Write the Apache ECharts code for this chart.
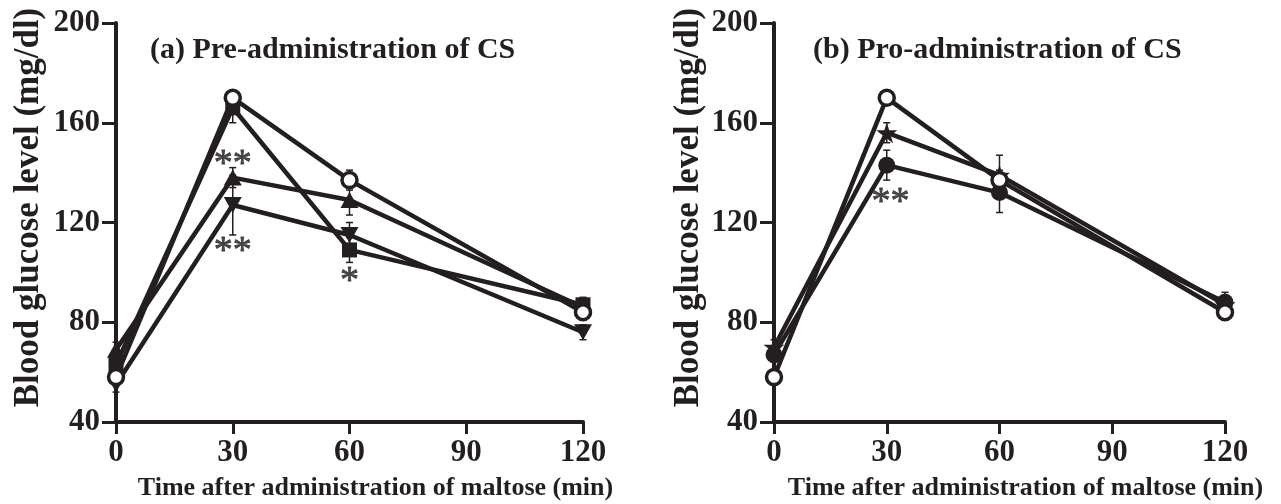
<!DOCTYPE html>
<html><head><meta charset="utf-8">
<script src="https://cdn.jsdelivr.net/npm/echarts@6/dist/echarts.min.js"></script>
<style>html,body{margin:0;padding:0;background:#fff}#c{width:1281px;height:504px}</style>
</head><body><div id="c"></div>
<script>
const times = [0, 30, 60, 120];
const panelTitles = ['(a) Pre-administration of CS', '(b) Pro-administration of CS'];
const xTitle = 'Time after administration of maltose (min)';
const yTitle = 'Blood glucose level (mg/dl)';

// panel (a)
const aControl = [58, 170, 137, 84];
const aControlErr = [2, 2, 4, 3];
const aSquare = [63, 166, 109, 87];
const aSquareErr = [3, 6, 5, 3];
const aTriUp = [69, 138, 129, 86];
const aTriUpErr = [3, 4, 6, 3];
const aTriDown = [55, 127, 115, 76];
const aTriDownErr = [3, 12, 5, 3];
// panel (b)
const bControl = [58, 170, 137, 84];
const bControlErr = [2, 2, 4, 3];
const bStar = [70, 156, 139, 87];
const bStarErr = [3, 4, 8, 3];
const bFilled = [67, 143, 132, 88];
const bFilledErr = [3, 6, 8, 4];

// significance marks [x, y, text]
const aMarks = [[30, 143, '**'], [30, 108, '**'], [60, 96, '*']];
const bMarks = [[31, 128, '**']];

const INK = '#231f20';
const SERIF = '"Liberation Serif", "Times New Roman", serif';
const DOWN_TRI = 'path://M0,0 L10,0 L5,9 Z';
const STAR = 'path://M50,0 L61,35 L98,35 L68,57 L79,91 L50,70 L21,91 L32,57 L2,35 L39,35 Z';

function errSeries(ai, vals, errs) {
  return {
    type: 'custom', xAxisIndex: ai, yAxisIndex: ai, z: 1, silent: true, animation: false,
    data: times.map((t, i) => [t, vals[i], errs[i]]),
    renderItem(params, api) {
      const x = api.value(0), y = api.value(1), e = api.value(2);
      const hi = api.coord([x, y + e]), lo = api.coord([x, y - e]);
      const w = 3.5, st = {stroke: INK, lineWidth: 1.5};
      return {type: 'group', children: [
        {type: 'line', shape: {x1: hi[0], y1: hi[1], x2: lo[0], y2: lo[1]}, style: st},
        {type: 'line', shape: {x1: hi[0] - w, y1: hi[1], x2: hi[0] + w, y2: hi[1]}, style: st},
        {type: 'line', shape: {x1: lo[0] - w, y1: lo[1], x2: lo[0] + w, y2: lo[1]}, style: st}
      ]};
    }
  };
}
function lineSeries(ai, vals, symbol, size, open, z) {
  return {
    type: 'line', xAxisIndex: ai, yAxisIndex: ai, z: z || 3, animation: false, silent: true,
    data: times.map((t, i) => [t, vals[i]]),
    symbol: symbol, symbolSize: size, showAllSymbol: true,
    lineStyle: {color: INK, width: 4.5},
    itemStyle: open ? {color: '#fff', borderColor: INK, borderWidth: 3.5, opacity: 1}
                    : {color: INK, borderWidth: 0, opacity: 1}
  };
}
function markSeries(ai, marks) {
  return {
    type: 'scatter', xAxisIndex: ai, yAxisIndex: ai, z: 5, symbolSize: 0, silent: true, animation: false,
    data: marks.map(m => ({value: [m[0], m[1]], label: {formatter: m[2]}})),
    label: {show: true, position: 'inside', fontFamily: SERIF, fontSize: 38, color: INK,
            textBorderColor: INK, textBorderWidth: 0.8}
  };
}
function xAxis(gi) {
  return {
    type: 'value', gridIndex: gi, min: 0, max: 120, interval: 30,
    name: xTitle, nameLocation: 'middle', nameGap: 53,
    nameTextStyle: {fontFamily: SERIF, fontWeight: 'bold', fontSize: 26, color: INK, padding: [0, 0, 0, 52]},
    axisLine: {lineStyle: {color: INK, width: 4}},
    axisTick: {length: 12, lineStyle: {width: 3, color: INK}},
    axisLabel: {margin: 15, fontFamily: SERIF, fontWeight: 'bold', fontSize: 31, color: INK},
    splitLine: {show: false}
  };
}
function yAxis(gi, gap) {
  return {
    type: 'value', gridIndex: gi, min: 40, max: 200, interval: 40,
    name: yTitle, nameLocation: 'middle', nameGap: gap,
    nameTextStyle: {fontFamily: SERIF, fontWeight: 'bold', fontSize: 35, color: INK, padding: [0, 0, 0, 30]},
    axisLine: {lineStyle: {color: INK, width: 4}},
    axisTick: {length: 14, lineStyle: {width: 3, color: INK}},
    axisLabel: {margin: 16, fontFamily: SERIF, fontWeight: 'bold', fontSize: 31, color: INK},
    splitLine: {show: false}
  };
}

const chart = echarts.init(document.getElementById('c'), null, {renderer: 'canvas'});
chart.setOption({
  backgroundColor: '#fff',
  animation: false,
  title: [
    {text: panelTitles[0], left: 145, top: 30, textStyle: {fontFamily: SERIF, fontWeight: 'bold', fontSize: 30, color: INK}},
    {text: panelTitles[1], left: 808, top: 30, textStyle: {fontFamily: SERIF, fontWeight: 'bold', fontSize: 30, color: INK}}
  ],
  grid: [
    {left: 116, right: 698, top: 23, bottom: 82, containLabel: false, outerBoundsMode: 'none'},
    {left: 774, right: 56, top: 23, bottom: 82, containLabel: false, outerBoundsMode: 'none'}
  ],
  xAxis: [xAxis(0), xAxis(1)],
  yAxis: [yAxis(0, 70), yAxis(1, 68)],
  series: [
    errSeries(0, aControl, aControlErr),
    errSeries(0, aSquare, aSquareErr),
    errSeries(0, aTriUp, aTriUpErr),
    errSeries(0, aTriDown, aTriDownErr),
    lineSeries(0, aTriDown, DOWN_TRI, [18, 16], false),
    lineSeries(0, aTriUp, 'triangle', [18, 16], false),
    lineSeries(0, aSquare, 'rect', 15, false),
    lineSeries(0, aControl, 'circle', 15, true, 4),
    markSeries(0, aMarks),
    errSeries(1, bControl, bControlErr),
    errSeries(1, bStar, bStarErr),
    errSeries(1, bFilled, bFilledErr),
    lineSeries(1, bFilled, 'circle', 17, false),
    lineSeries(1, bStar, STAR, 21, false),
    lineSeries(1, bControl, 'circle', 15, true, 4),
    markSeries(1, bMarks)
  ]
});
</script></body></html>
